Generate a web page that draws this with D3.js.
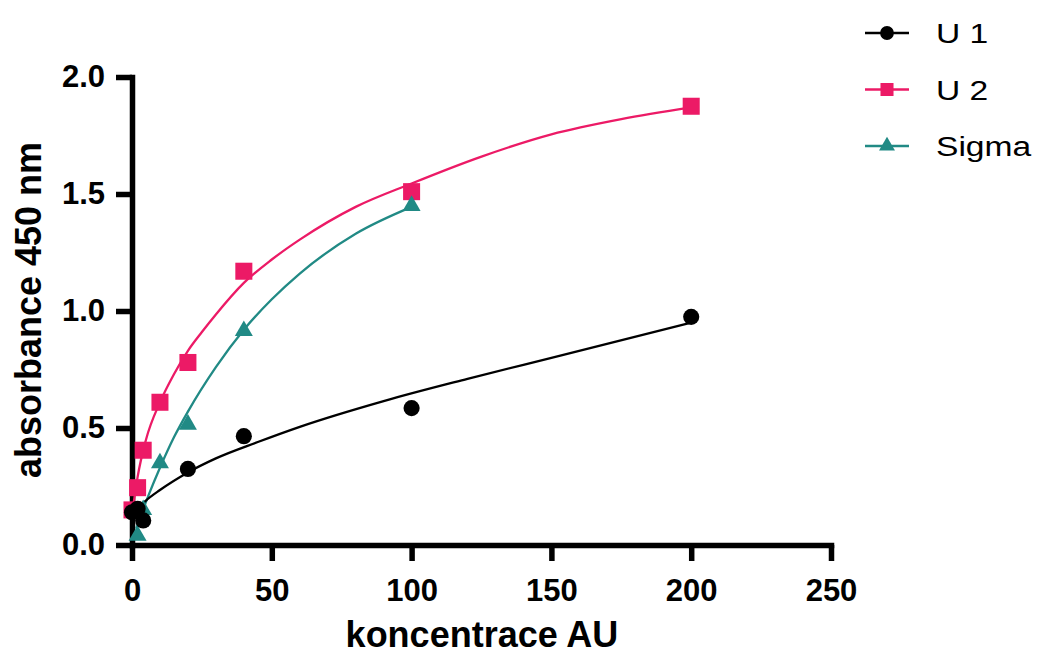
<!DOCTYPE html>
<html>
<head>
<meta charset="utf-8">
<script src="https://cdn.jsdelivr.net/npm/d3@7"></script>
<style>
  html, body { margin: 0; padding: 0; background: #fff; }
  svg { display: block; font-family: "Liberation Sans", Arial, sans-serif; }
</style>
</head>
<body>
<svg id="chart" width="1040" height="657"></svg>
<script>
const concU1 = [0, 2, 4, 20, 40, 100, 200];
const absU1 = [0.14, 0.155, 0.105, 0.325, 0.465, 0.585, 0.975];

const concU2 = [0, 2, 4, 10, 20, 40, 100, 200];
const absU2 = [0.15, 0.245, 0.405, 0.61, 0.78, 1.17, 1.51, 1.875];

const concSigma = [2, 4, 10, 20, 40, 100];
const absSigma = [0.04, 0.15, 0.35, 0.515, 0.915, 1.45];

// fitted curves
const fitU1X = [0.5, 2, 5, 10, 20, 30, 45, 60, 90, 120, 150, 200];
const fitU1Y = [0.13, 0.155, 0.19, 0.235, 0.31, 0.37, 0.44, 0.505, 0.615, 0.71, 0.8, 0.95];

const fitU2X = [0.5, 2, 5, 10, 15, 20, 25, 30, 40, 50, 60, 80, 100, 125, 150, 175, 200];
const fitU2Y = [0.17, 0.29, 0.45, 0.61, 0.73, 0.83, 0.91, 0.985, 1.12, 1.22, 1.305, 1.445, 1.545, 1.66, 1.755, 1.82, 1.87];

const fitSigmaX = [1.5, 3, 6, 10, 15, 20, 30, 40, 50, 60, 80, 100];
const fitSigmaY = [0.07, 0.12, 0.215, 0.33, 0.46, 0.57, 0.76, 0.92, 1.05, 1.16, 1.33, 1.445];

const xTicks = [0, 50, 100, 150, 200, 250];
const yTicks = [0, 0.5, 1.0, 1.5, 2.0];

const seriesNames = ['U 1', 'U 2', 'Sigma'];

// drawing order: U 2 under Sigma under U 1
const series = [
  { name: seriesNames[1], xs: concU2, ys: absU2, fx: fitU2X, fy: fitU2Y, color: '#ec1a66', sym: d3.symbolSquare, size: 290, lsize: 170 },
  { name: seriesNames[2], xs: concSigma, ys: absSigma, fx: fitSigmaX, fy: fitSigmaY, color: '#218a85', sym: d3.symbolTriangle, size: 140, lsize: 110 },
  { name: seriesNames[0], xs: concU1, ys: absU1, fx: fitU1X, fy: fitU1Y, color: '#000000', sym: d3.symbolCircle, size: 205, lsize: 150 }
];

const svg = d3.select('#chart');

const x = d3.scaleLinear().domain([0, 250]).range([132, 831]);
const y = d3.scaleLinear().domain([0, 2]).range([545, 77]);

// axes
const xAxis = svg.append('g')
  .attr('transform', `translate(0,${y(0)})`)
  .call(d3.axisBottom(x).tickValues(xTicks).tickSize(16).tickSizeOuter(0).tickPadding(18));

const yAxis = svg.append('g')
  .attr('transform', `translate(${x(0)},0)`)
  .call(d3.axisLeft(y).tickValues(yTicks).tickFormat(d3.format('.1f')).tickSize(16).tickSizeOuter(0).tickPadding(11));

[xAxis, yAxis].forEach(g => {
  g.select('.domain').attr('stroke', '#000').attr('stroke-width', 5.5).attr('stroke-linecap', 'square');
  g.selectAll('.tick line').attr('stroke', '#000').attr('stroke-width', 5.5);
  g.selectAll('.tick text')
    .attr('fill', '#000')
    .style('font-size', '31px')
    .style('font-weight', 'bold')
    .style('font-family', '"Liberation Sans", Arial, sans-serif');
});

// axis titles
svg.append('text')
  .attr('x', 482)
  .attr('y', 647)
  .attr('text-anchor', 'middle')
  .style('font-size', '36px')
  .style('font-weight', 'bold')
  .text('koncentrace AU');

svg.append('text')
  .attr('transform', 'translate(41,310) rotate(-90)')
  .attr('text-anchor', 'middle')
  .style('font-size', '36px')
  .style('font-weight', 'bold')
  .text('absorbance 450 nm');

// curves and points
const line = d3.line()
  .x(d => x(d[0]))
  .y(d => y(d[1]))
  .curve(d3.curveMonotoneX);

for (const s of series) {
  const fit = s.fx.map((v, i) => [v, s.fy[i]]);
  svg.append('path')
    .attr('d', line(fit))
    .attr('fill', 'none')
    .attr('stroke', s.color)
    .attr('stroke-width', 2.3);
}

for (const s of series) {
  const pts = s.xs.map((v, i) => [v, s.ys[i]]);
  svg.append('g').selectAll('path')
    .data(pts)
    .join('path')
    .attr('transform', d => `translate(${x(d[0])},${y(d[1])})`)
    .attr('d', d3.symbol().type(s.sym).size(s.size))
    .attr('fill', s.color);
}

// legend
const legendOrder = [series[2], series[0], series[1]];
const legend = svg.append('g');
legendOrder.forEach((s, i) => {
  const ly = 33 + i * 56.5;
  const row = legend.append('g').attr('transform', `translate(0,${ly})`);
  row.append('line')
    .attr('x1', 865).attr('x2', 909)
    .attr('stroke', s.color).attr('stroke-width', 2.5);
  row.append('path')
    .attr('transform', 'translate(887,0)')
    .attr('d', d3.symbol().type(s.sym).size(s.lsize))
    .attr('fill', s.color);
  row.append('text')
    .attr('transform', 'translate(936,10) scale(1.2,1)')
    .style('font-size', '28px')
    .attr('fill', '#000')
    .text(s.name);
});
</script>
</body>
</html>
